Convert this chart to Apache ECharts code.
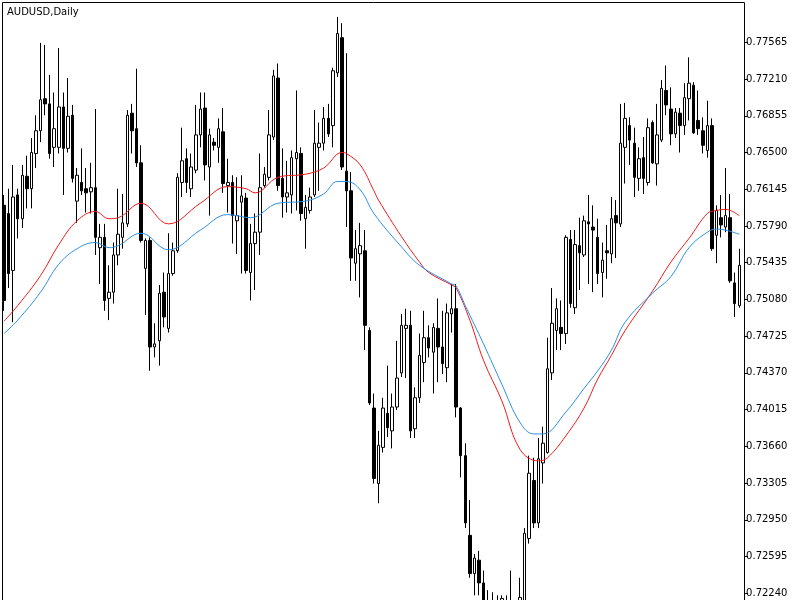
<!DOCTYPE html>
<html>
<head>
<meta charset="utf-8">
<script src="https://cdn.jsdelivr.net/npm/echarts@6/dist/echarts.min.js"></script>
<style>html,body{margin:0;padding:0;background:#fff}#c{width:800px;height:600px}</style>
</head>
<body>
<div id="c"></div>
<script>
const chartTitle = 'AUDUSD,Daily';
const opens = [
0.7599,0.7591,0.7536,0.7609,0.7586,0.7627,0.7615,0.7649,0.7671,0.7702,
0.7697,0.7655,0.7655,0.7694,0.7654,0.7686,0.7603,0.7621,0.7615,0.7612,
0.7616,0.7558,0.7568,0.7509,0.7515,0.7551,0.7568,0.7581,0.7688,0.7673,
0.7640,0.7538,0.7565,0.7462,0.7468,0.7515,0.7480,0.7533,0.7555,0.7621,
0.7644,0.7615,0.7633,0.7667,0.7693,0.7636,0.7660,0.7655,0.7670,0.7618,
0.7621,0.7584,0.7602,0.7606,0.7534,0.7562,0.7573,0.7618,0.7626,0.7665,
0.7722,0.7625,0.7607,0.7609,0.7644,0.7649,0.7586,0.7594,0.7609,0.7655,
0.7659,0.7683,0.7676,0.7727,0.7761,0.7632,0.7613,0.7543,0.7552,0.7555,
0.7478,0.7403,0.7330,0.7365,0.7398,0.7381,0.7404,0.7437,0.7480,0.7483,
0.7383,0.7413,0.7447,0.7471,0.7457,0.7480,0.7462,0.7442,0.7494,0.7499,
0.7403,0.7357,0.7280,0.7243,0.7256,0.7234,0.7203,0.7193,0.7205,0.7207,
0.7217,0.7203,0.7212,0.7198,0.7217,0.7277,0.7333,0.7292,0.7350,0.7360,
0.7437,0.7478,0.7481,0.7475,0.7566,0.7500,0.7560,0.7551,0.7583,0.7578,
0.7568,0.7534,0.7555,0.7552,0.7589,0.7581,0.7655,0.7676,0.7659,0.7625,
0.7645,0.7621,0.7679,0.7639,0.7662,0.7710,0.7692,0.7668,0.7688,0.7676,
0.7702,0.7715,0.7681,0.7671,0.7652,0.7676,0.7570,0.7587,0.7578,0.7587,
0.7524,0.7502];
const closes = [
0.7507,0.7533,0.7607,0.7586,0.7628,0.7615,0.7650,0.7671,0.7701,0.7697,
0.7649,0.7673,0.7694,0.7654,0.7685,0.7625,0.7628,0.7613,0.7611,0.7616,
0.7568,0.7568,0.7507,0.7515,0.7551,0.7571,0.7582,0.7686,0.7671,0.7640,
0.7565,0.7565,0.7462,0.7465,0.7514,0.7491,0.7533,0.7555,0.7626,0.7642,
0.7621,0.7636,0.7667,0.7692,0.7638,0.7667,0.7657,0.7673,0.7620,0.7621,
0.7589,0.7589,0.7608,0.7536,0.7562,0.7573,0.7616,0.7629,0.7667,0.7724,
0.7618,0.7607,0.7611,0.7645,0.7650,0.7591,0.7597,0.7607,0.7659,0.7659,
0.7683,0.7668,0.7729,0.7765,0.7636,0.7613,0.7548,0.7557,0.7560,0.7483,
0.7408,0.7335,0.7367,0.7403,0.7384,0.7404,0.7432,0.7483,0.7483,0.7381,
0.7413,0.7454,0.7471,0.7461,0.7481,0.7462,0.7446,0.7495,0.7499,0.7404,
0.7357,0.7292,0.7243,0.7258,0.7234,0.7203,0.7190,0.7207,0.7188,0.7219,
0.7203,0.7212,0.7198,0.7220,0.7282,0.7340,0.7292,0.7354,0.7369,0.7441,
0.7485,0.7499,0.7475,0.7568,0.7504,0.7561,0.7553,0.7584,0.7581,0.7575,
0.7533,0.7546,0.7553,0.7586,0.7582,0.7659,0.7683,0.7662,0.7626,0.7644,
0.7625,0.7674,0.7640,0.7667,0.7712,0.7696,0.7668,0.7689,0.7676,0.7703,
0.7717,0.7669,0.7673,0.7657,0.7676,0.7557,0.7594,0.7580,0.7589,0.7526,
0.7504,0.7541];
const highs = [
0.7609,0.7615,0.7638,0.7615,0.7638,0.7647,0.7664,0.7686,0.7756,0.7754,
0.7725,0.7708,0.7751,0.7708,0.7722,0.7696,0.7635,0.7654,0.7635,0.7640,
0.7692,0.7581,0.7581,0.7541,0.7563,0.7615,0.7610,0.7691,0.7697,0.7731,
0.7657,0.7567,0.7568,0.7485,0.7522,0.7534,0.7572,0.7563,0.7630,0.7674,
0.7654,0.7649,0.7696,0.7708,0.7708,0.7673,0.7664,0.7683,0.7693,0.7644,
0.7628,0.7626,0.7628,0.7611,0.7581,0.7591,0.7649,0.7636,0.7691,0.7730,
0.7736,0.7654,0.7642,0.7652,0.7710,0.7655,0.7609,0.7616,0.7691,0.7679,
0.7694,0.7697,0.7732,0.7781,0.7775,0.7746,0.7631,0.7575,0.7582,0.7575,
0.7481,0.7417,0.7381,0.7413,0.7444,0.7417,0.7468,0.7494,0.7499,0.7497,
0.7423,0.7475,0.7497,0.7483,0.7485,0.7509,0.7497,0.7504,0.7523,0.7523,
0.7404,0.7369,0.7314,0.7262,0.7265,0.7246,0.7227,0.7225,0.7222,0.7222,
0.7222,0.7246,0.7217,0.7239,0.7287,0.7357,0.7355,0.7374,0.7385,0.7471,
0.7519,0.7509,0.7507,0.7570,0.7575,0.7575,0.7587,0.7589,0.7609,0.7599,
0.7586,0.7563,0.7580,0.7607,0.7604,0.7697,0.7698,0.7684,0.7674,0.7655,
0.7665,0.7683,0.7681,0.7697,0.7720,0.7734,0.7713,0.7693,0.7693,0.7717,
0.7742,0.7718,0.7710,0.7684,0.7700,0.7683,0.7599,0.7609,0.7635,0.7610,
0.7534,0.7557];
const lows = [
0.7497,0.7519,0.7486,0.7567,0.7577,0.7596,0.7596,0.7635,0.7660,0.7686,
0.7644,0.7636,0.7649,0.7609,0.7650,0.7621,0.7582,0.7609,0.7592,0.7591,
0.7551,0.7523,0.7497,0.7488,0.7504,0.7541,0.7557,0.7578,0.7649,0.7636,
0.7563,0.7493,0.7439,0.7452,0.7444,0.7481,0.7476,0.7531,0.7553,0.7607,
0.7611,0.7607,0.7630,0.7655,0.7623,0.7589,0.7652,0.7640,0.7611,0.7592,
0.7562,0.7552,0.7533,0.7533,0.7507,0.7517,0.7551,0.7616,0.7623,0.7662,
0.7613,0.7587,0.7592,0.7591,0.7594,0.7584,0.7557,0.7591,0.7607,0.7613,
0.7652,0.7665,0.7655,0.7723,0.7633,0.7578,0.7526,0.7526,0.7510,0.7459,
0.7406,0.7330,0.7311,0.7360,0.7375,0.7364,0.7401,0.7433,0.7432,0.7374,
0.7374,0.7408,0.7428,0.7452,0.7417,0.7428,0.7436,0.7428,0.7476,0.7394,
0.7336,0.7287,0.7239,0.7222,0.7222,0.7193,0.7178,0.7178,0.7174,0.7193,
0.7188,0.7183,0.7178,0.7188,0.7207,0.7272,0.7287,0.7287,0.7330,0.7359,
0.7430,0.7459,0.7459,0.7465,0.7500,0.7494,0.7517,0.7549,0.7523,0.7515,
0.7523,0.7510,0.7528,0.7543,0.7548,0.7578,0.7620,0.7638,0.7607,0.7613,
0.7610,0.7618,0.7639,0.7618,0.7660,0.7686,0.7657,0.7664,0.7650,0.7667,
0.7681,0.7668,0.7667,0.7649,0.7645,0.7555,0.7543,0.7568,0.7573,0.7524,
0.7491,0.7500];
// moving averages at these bar indices
const redMaIdx = [0,3,8,12,16,20,23,25,30,36,43,49,53,55,60,66,70,74,75,78,81,82,87,91,93,98,99,102,105,109,113,117,119,123,127,130,133,136,142,146,150,154,156,158,161];
const redMaVal = [0.7487,0.7502,0.7531,0.7561,0.7584,0.7593,0.7586,0.7587,0.7601,0.7581,0.7601,0.7617,0.7615,0.7611,0.7626,0.7629,0.7635,0.7650,0.7649,0.7638,0.7613,0.7604,0.7569,0.7544,0.7534,0.7522,0.7519,0.7488,0.7449,0.7410,0.7363,0.7352,0.7355,0.7376,0.7403,0.7431,0.7454,0.7478,0.7516,0.7544,0.7567,0.7591,0.7594,0.7595,0.7589];
const blueMaIdx = [0,3,8,12,16,20,23,25,30,36,43,49,54,60,66,70,73,75,78,81,87,91,98,99,101,105,109,113,116,118,123,127,130,133,136,142,146,150,154,156,158,161];
const blueMaVal = [0.7475,0.7488,0.7515,0.7542,0.7557,0.7563,0.7558,0.7560,0.7572,0.7556,0.7575,0.7590,0.7587,0.7601,0.7603,0.7610,0.7622,0.7622,0.7614,0.7591,0.7559,0.7541,0.7523,0.7521,0.7502,0.7465,0.7426,0.7389,0.7378,0.7378,0.7399,0.7422,0.7439,0.7459,0.7486,0.7514,0.7530,0.7558,0.7573,0.7576,0.7575,0.7571];
const priceTicks = [0.72240,0.72595,0.72950,0.73305,0.73660,0.74015,0.74370,0.74725,0.75080,0.75435,0.75790,0.76145,0.76500,0.76855,0.77210,0.77565];
const yMin = 0.72175, yMax = 0.77945;

const categories = opens.map((_, i) => String(i + 1));
const candleData = opens.map((o, i) => [o, closes[i], lows[i], highs[i]]);
const redData = redMaIdx.map((x, i) => [x, redMaVal[i]]);
const blueData = blueMaIdx.map((x, i) => [x, blueMaVal[i]]);

const chart = echarts.init(document.getElementById('c'), null, {renderer: 'canvas'});
chart.setOption({
  animation: false,
  backgroundColor: '#ffffff',
  title: {
    text: chartTitle, left: 7, top: 7, padding: 0,
    textStyle: {fontSize: 10, fontWeight: 'normal', fontFamily: 'DejaVu Sans', color: '#000'}
  },
  grid: {left: 1.7, right: 58.4, top: 3, bottom: 0, outerBoundsMode: 'none', containLabel: false},
  xAxis: {
    type: 'category', data: categories, boundaryGap: true, show: false
  },
  yAxis: {
    type: 'value', position: 'right', offset: 2.5, min: yMin, max: yMax,
    splitLine: {show: false},
    axisLine: {show: true, lineStyle: {color: '#000', width: 1}},
    axisTick: {show: true, length: 4, customValues: priceTicks, lineStyle: {color: '#000'}},
    axisLabel: {
      customValues: priceTicks, margin: 2, color: '#000', fontSize: 10, fontFamily: 'DejaVu Sans',
      formatter: v => v.toFixed(5)
    }
  },
  graphic: [
    {type: 'line', shape: {x1: 2.5, y1: 2.5, x2: 744.5, y2: 2.5}, style: {stroke: '#000', lineWidth: 1}, z: 100},
    {type: 'line', shape: {x1: 2.5, y1: 2.5, x2: 2.5, y2: 600}, style: {stroke: '#000', lineWidth: 1}, z: 100}
  ],
  series: [
    {
      type: 'candlestick', data: candleData, barWidth: 3,
      itemStyle: {color: '#ffffff', color0: '#000000', borderColor: '#000000', borderColor0: '#000000', borderWidth: 1}
    },
    {
      type: 'line', data: redData, smooth: 0.4, symbol: 'none',
      lineStyle: {color: '#f01a1a', width: 1}, z: 3
    },
    {
      type: 'line', data: blueData, smooth: 0.4, symbol: 'none',
      lineStyle: {color: '#2c8fe6', width: 1}, z: 3
    }
  ]
});
</script>
</body>
</html>
